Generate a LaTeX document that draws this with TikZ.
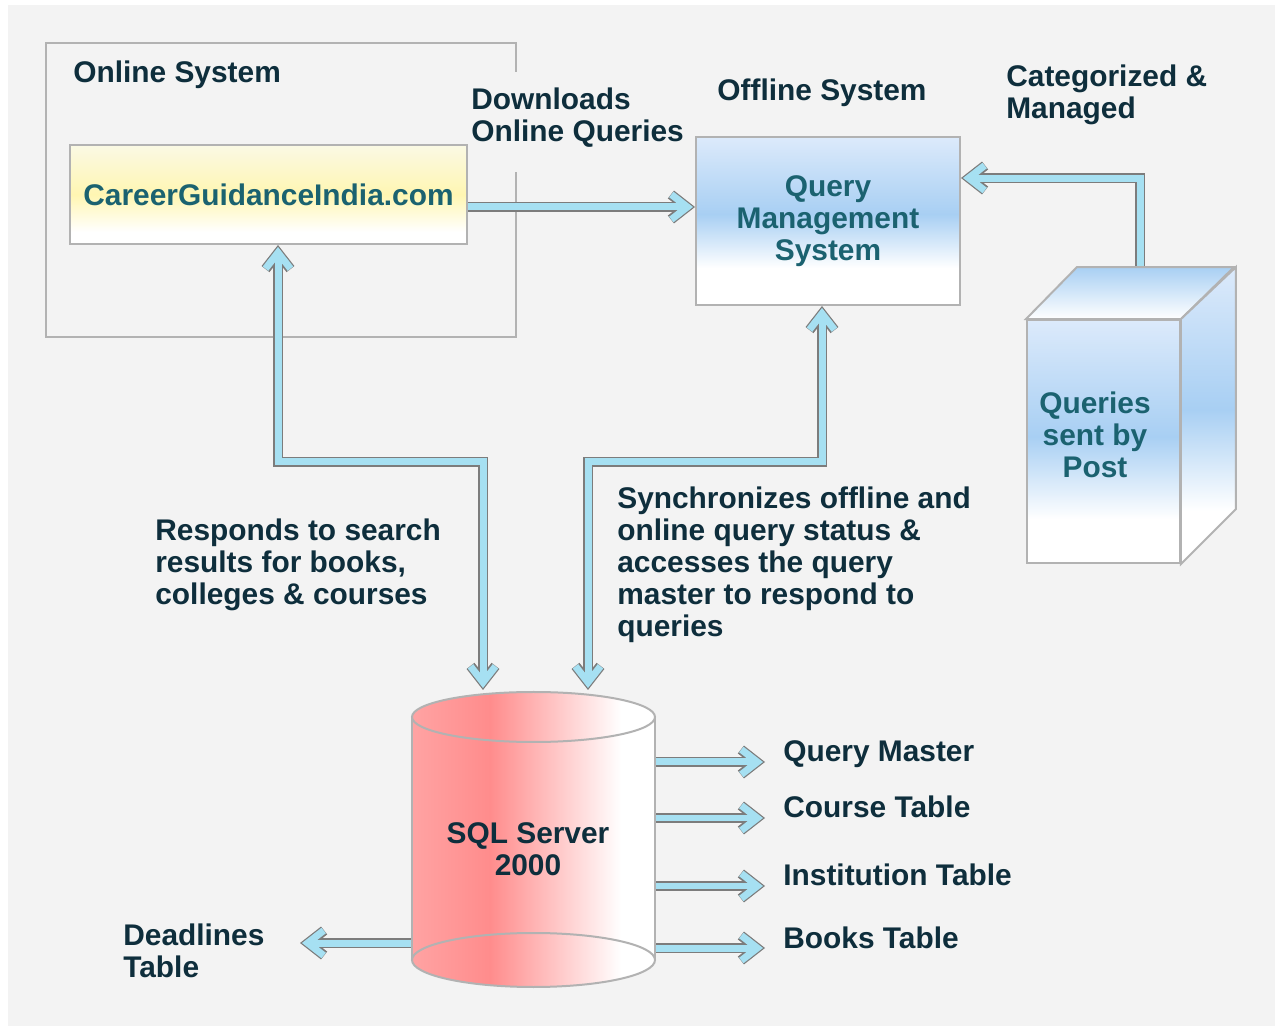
\documentclass[tikz,border=0pt]{standalone}
\usepackage{fontspec}
\setmainfont{Liberation Sans}
\usepackage{tikz}
\usetikzlibrary{arrows.meta}
\usepackage{xcolor}

\definecolor{bgc}{HTML}{F3F3F3}
\definecolor{framec}{HTML}{B2B2B2}
\definecolor{labelc}{HTML}{0E2E3C}
\definecolor{nodec}{HTML}{1B6270}
\definecolor{arrowin}{HTML}{A6E0F2}
\definecolor{arrowout}{HTML}{7C7C7C}
\definecolor{qmsblue}{HTML}{A8CFF3}
\definecolor{qmslight}{HTML}{DCEAFB}
\definecolor{cgiyellow}{HTML}{FFF6B2}
\definecolor{cgilight}{HTML}{FAF9E4}
\definecolor{sqlred}{HTML}{FF8C8C}

\pgfdeclareverticalshading{cgishade}{100bp}{color(0bp)=(white); color(31bp)=(white); color(50bp)=(cgiyellow); color(75bp)=(cgilight); color(100bp)=(cgilight)}
\pgfdeclareverticalshading{qmsshade}{100bp}{color(0bp)=(white); color(36bp)=(white); color(52bp)=(qmsblue); color(75bp)=(qmslight); color(100bp)=(qmslight)}
\pgfdeclareverticalshading{postshade}{100bp}{color(0bp)=(white); color(34bp)=(white); color(51bp)=(qmsblue); color(75bp)=(qmslight); color(100bp)=(qmslight)}
\pgfdeclarehorizontalshading{sqlshade}{100bp}{color(0bp)=(sqlred!80!white); color(25bp)=(sqlred!80!white); color(41bp)=(sqlred); color(68bp)=(white); color(100bp)=(white)}

\tikzset{
  lbl/.style={font=\bfseries\fontsize{17}{18.2}\selectfont, text=labelc, inner sep=0pt, align=left},
  boxtxt/.style={font=\bfseries\fontsize{17}{18.2}\selectfont, text=nodec, align=center},
  frame/.style={draw=framec, line width=0.04cm},
  barb/.tip={Straight Barb[length=0.32cm, width=0.5cm]},
  dblarrow/.style={draw=arrowin, line width=0.14cm, shorten >=0.04cm, -barb,
    preaction={draw=arrowout, line width=0.2cm, shorten >=0cm, -barb}},
  dblboth/.style={draw=arrowin, line width=0.14cm, shorten >=0.04cm, shorten <=0.04cm, barb-barb,
    preaction={draw=arrowout, line width=0.2cm, shorten >=0cm, shorten <=0cm, barb-barb}}
}

\begin{document}
\begin{tikzpicture}[x=0.02cm, y=-0.02cm]
\useasboundingbox (0,0) rectangle (1275,1026);
\fill[white] (0,0) rectangle (1275,1026);
\fill[bgc] (8,5) rectangle (1275,1026);

% online system
\draw[frame] (516,72) |- (46,43) |- (516,337) -- (516,172);
\node[lbl, anchor=west] (onl) at (73,75) {Online System};
\node[frame, shading=cgishade, boxtxt, minimum width=7.94cm, minimum height=1.98cm] (cgi) at (268.5,194.5) {CareerGuidanceIndia.com};
\node[lbl, anchor=north west] (dwn) at (471,88) {Downloads\\Online Queries};

% offline system
\node[lbl] (off) at (822,93) {Offline System};
\node[lbl, anchor=north west] (cat) at (1006,65) {Categorized \&\\Managed};
\node[frame, shading=qmsshade, boxtxt, minimum width=5.28cm, minimum height=3.36cm] (qms) at (828,221) {Query\\Management\\System};

% queries sent by post
\coordinate (postTop) at (1140,268);
\draw[dblarrow] (postTop) |- ([yshift=0.86cm]qms.east);
\node[frame, shading=postshade, minimum width=3.06cm, minimum height=4.86cm] (post) at (1103.5,441.5) {};
\shade[frame, top color=qmsblue, bottom color=white] (post.north west) -- ++(51,-52) -- ++(157,0) -- (post.north east) -- cycle;
\shade[frame, shading=postshade] (post.north east) -- ++(55,-52) -- ++(0,242) -- (post.south east) -- cycle;
\node[boxtxt] (posttxt) at (1095,435) {Queries\\sent by\\Post};

\draw[dblarrow] ([yshift=-0.25cm]cgi.east) coordinate (dlStart) -- (qms.west |- dlStart);

% links to the database
\coordinate (bendA) at (278,462);
\coordinate (bendB) at (822,462);
\coordinate (sqlA) at (483,690);
\coordinate (sqlB) at (588,690);
\draw[dblboth] (bendA |- cgi.south) -- (bendA) -| (sqlA);
\draw[dblboth] (bendB |- qms.south) -- (bendB) -| (sqlB);

\node[lbl, anchor=north west] (resp) at (155,519) {Responds to search\\results for books,\\colleges \& courses};
\node[lbl, anchor=north west] (sync) at (617,487) {Synchronizes offline and\\online query status \&\\accesses the query\\master to respond to\\queries};

% tables
\node[lbl, anchor=base west] (qm) at (783,762) {Query Master};
\node[lbl, anchor=base west] (ct) at (783,818) {Course Table};
\node[lbl, anchor=base west] (it) at (783,886) {Institution Table};
\node[lbl, anchor=base west] (bt) at (783,948) {Books Table};
\node[lbl, anchor=north west] (dlt) at (123,924) {Deadlines\\Table};
\coordinate (dlEnd) at (300,943);

\node[minimum width=4.86cm, minimum height=4.86cm] (sql) at (533.5,849) {};
\foreach \t in {qm,ct,it,bt}
  \draw[dblarrow] (sql.east |- \t.base west) -- ([xshift=-0.36cm]\t.base west);
\draw[dblarrow] (sql.west |- dlEnd) -- (dlEnd);

% sql server cylinder
\shade[shading=sqlshade] (412,717) -- (412,960) arc[start angle=180, end angle=0, x radius=121.5, y radius=27] -- (655,717) arc[start angle=0, end angle=-180, x radius=121.5, y radius=25] -- cycle;
\draw[frame] (412,717) -- (412,960) (655,717) -- (655,960);
\draw[frame] (533.5,717) ellipse [x radius=121.5, y radius=25];
\draw[frame] (533.5,960) ellipse [x radius=121.5, y radius=27];
\node[lbl, align=center] (sqltxt) at (528,849) {SQL Server\\2000};
\end{tikzpicture}
\end{document}
